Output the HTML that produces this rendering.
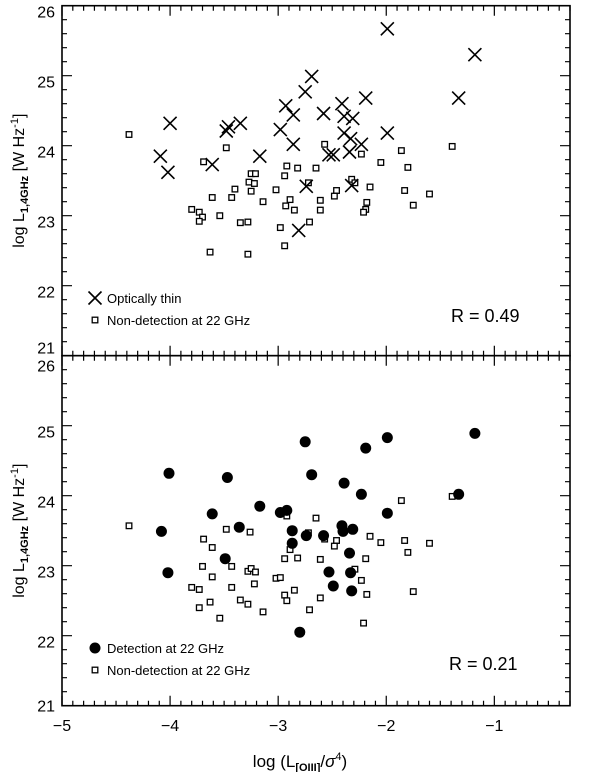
<!DOCTYPE html>
<html><head><meta charset="utf-8"><style>
html,body{margin:0;padding:0;background:#fff;}
svg text{font-family:"Liberation Sans","DejaVu Sans",sans-serif;fill:#000;}
</style></head><body>
<svg id="chart" width="600" height="772" viewBox="0 0 600 772" xmlns="http://www.w3.org/2000/svg">
<g id="axes"></g>
<g id="marks"></g>
</svg>
<script>
const xTicks=[-5,-4,-3,-2,-1];
const yTicks=[21,22,23,24,25,26];
const topThinX=[-1.99,-1.18,-2.69,-2.75,-2.93,-2.41,-2.19,-1.33,-4.0,-3.48,-3.46,-3.35,-2.86,-2.58,-2.39,-2.31,-2.98,-2.39,-1.99,-2.33,-2.86,-2.23,-2.34,-4.09,-3.17,-2.53,-2.49,-3.61,-4.02,-2.74,-2.32,-2.81];
const topThinY=[25.67,25.30,24.99,24.77,24.57,24.60,24.68,24.68,24.32,24.21,24.27,24.32,24.44,24.46,24.42,24.39,24.23,24.18,24.18,24.10,24.02,24.02,23.91,23.85,23.85,23.87,23.87,23.73,23.62,23.42,23.43,22.79];
const topNonX=[-4.38,-3.48,-3.69,-2.57,-1.86,-1.39,-2.23,-2.05,-1.80,-2.92,-2.82,-2.65,-2.94,-3.25,-3.21,-3.27,-3.22,-3.25,-3.02,-3.40,-3.43,-3.61,-3.14,-2.89,-2.93,-2.85,-2.72,-2.61,-2.61,-2.46,-2.48,-2.32,-2.29,-2.15,-2.18,-2.19,-2.21,-1.83,-1.75,-1.60,-3.80,-3.73,-3.70,-3.73,-3.54,-3.35,-3.28,-2.98,-2.71,-2.94,-3.63,-3.28];
const topNonY=[24.16,23.97,23.77,24.02,23.93,23.99,23.88,23.76,23.69,23.71,23.68,23.68,23.57,23.60,23.60,23.48,23.46,23.35,23.37,23.38,23.26,23.26,23.20,23.23,23.14,23.08,23.47,23.22,23.08,23.36,23.28,23.52,23.47,23.41,23.19,23.09,23.05,23.36,23.15,23.31,23.09,23.05,22.98,22.92,23.00,22.90,22.91,22.83,22.91,22.57,22.48,22.45];
const botDetX=[-1.18,-2.75,-1.99,-2.19,-4.01,-3.47,-2.69,-2.39,-2.23,-1.33,-3.17,-2.98,-2.92,-3.61,-1.99,-3.36,-4.08,-2.87,-2.41,-2.40,-2.31,-2.74,-2.58,-2.87,-2.34,-3.49,-4.02,-2.53,-2.33,-2.49,-2.32,-2.80];
const botDetY=[24.89,24.77,24.83,24.68,24.32,24.26,24.30,24.18,24.02,24.02,23.85,23.76,23.79,23.74,23.75,23.55,23.49,23.50,23.57,23.49,23.52,23.43,23.43,23.32,23.18,23.10,22.90,22.91,22.90,22.71,22.64,22.05];
const botNonX=[-4.38,-3.48,-3.26,-2.92,-2.65,-1.86,-1.39,-3.69,-3.61,-2.72,-2.57,-2.46,-2.48,-2.15,-2.05,-1.83,-1.80,-1.60,-2.89,-2.94,-2.82,-2.61,-2.19,-3.70,-3.43,-3.28,-3.25,-3.21,-2.29,-3.61,-3.02,-2.98,-3.22,-3.80,-3.73,-3.43,-2.23,-2.85,-2.94,-2.92,-2.61,-2.18,-1.75,-3.35,-3.28,-3.63,-3.73,-3.14,-2.71,-3.54,-2.21];
const botNonY=[23.57,23.52,23.48,23.71,23.68,23.93,23.99,23.38,23.26,23.47,23.38,23.36,23.28,23.42,23.33,23.36,23.19,23.32,23.23,23.10,23.11,23.09,23.10,22.99,22.99,22.92,22.96,22.91,22.95,22.84,22.82,22.83,22.74,22.69,22.66,22.69,22.79,22.65,22.58,22.50,22.54,22.59,22.63,22.51,22.45,22.48,22.40,22.34,22.37,22.25,22.18];

const NS='http://www.w3.org/2000/svg';
const L=62,R=570,XMIN=-5,XMAX=-0.3;
const panels=[{top:5.7,bot:355.7},{top:355.7,bot:705.7}];
function sx(v){return L+(v-XMIN)/(XMAX-XMIN)*(R-L);}
function syF(p){return v=>p.bot-(v-21)/(26-21)*(p.bot-p.top);}
function mk(tag,attrs,parent,text){const e=document.createElementNS(NS,tag);for(const k in attrs)e.setAttribute(k,attrs[k]);if(text!==undefined)e.textContent=text;parent.appendChild(e);return e;}
const axes=document.getElementById('axes'),marks=document.getElementById('marks');

panels.forEach((p,pi)=>{
  const sy=syF(p);
  const fr=mk('rect',{x:L,y:p.top,width:R-L,height:p.bot-p.top,fill:'none',stroke:'#000','stroke-width':1.6},axes);
  
  
  let d='';
  for(let v=-5;v<=-0.3+1e-6;v+=0.1){const x=sx(v);const maj=Math.abs(v-Math.round(v))<1e-6;const len=maj?10:5;d+=`M${x},${p.bot}v${-len}M${x},${p.top}v${len}`;}
  for(let v=21;v<=26+1e-6;v+=0.2){const y=sy(v);const maj=Math.abs(v-Math.round(v))<1e-6;const len=maj?10:5;d+=`M${L},${y}h${len}M${R},${y}h${-len}`;}
  const tk=mk('path',{d:d,stroke:'#000','stroke-width':1.2,fill:'none'},axes);
  
  
  yTicks.forEach(v=>{
    let yy=sy(v)+12;
    if(pi===0&&v===21)yy=sy(v)-2;
    if(pi===1&&v===26)yy=sy(v)+16;
    if(pi===1&&v===21)yy=sy(v)+6;
    const t=mk('text',{x:55,y:yy,'text-anchor':'end','font-size':16},axes,String(v));
    
    });
  const cy=(p.top+p.bot)/2;
  const yt=mk('text',{x:0,y:0,transform:`translate(24,${cy}) rotate(-90)`,'text-anchor':'middle','font-size':16},axes);
  
  
  yt.innerHTML='log L<tspan font-size="11" dy="4" font-weight="bold">1,4GHz</tspan><tspan dy="-4"> [W Hz</tspan><tspan font-size="11" dy="-6">-1</tspan><tspan dy="6">]</tspan>';
});
xTicks.forEach(v=>{const t=mk('text',{x:sx(v),y:731,'text-anchor':'middle','font-size':16},axes,(v<0?'\u2212':'')+Math.abs(v));
  
  });
const xt=mk('text',{x:300,y:767,'text-anchor':'middle','font-size':17},axes);


xt.innerHTML='log (L<tspan font-size="11" dy="4" font-weight="bold">[OIII]</tspan><tspan dy="-4">/</tspan><tspan font-style="italic">σ</tspan><tspan font-size="11" dy="-7">4</tspan><tspan dy="7">)</tspan>';

function cross(x,y,parent,name){const s=6.5;const e=mk('path',{d:`M${x-s},${y-s}L${x+s},${y+s}M${x-s},${y+s}L${x+s},${y-s}`,stroke:'#000','stroke-width':1.6,fill:'none'},parent);
  
  }
function square(x,y,parent,name){const e=mk('rect',{x:x-2.8,y:y-2.8,width:5.6,height:5.6,fill:'#fff',stroke:'#000','stroke-width':1.3},parent);
  
  }
function dot(x,y,parent,name){const e=mk('circle',{cx:x,cy:y,r:5.5,fill:'#000'},parent);
  
  }

const syT=syF(panels[0]),syB=syF(panels[1]);
topNonX.forEach((v,i)=>square(sx(v),syT(topNonY[i]),marks,'non-detection-point'));
topThinX.forEach((v,i)=>cross(sx(v),syT(topThinY[i]),marks,'optically-thin-point'));
botNonX.forEach((v,i)=>square(sx(v),syB(botNonY[i]),marks,'non-detection-point'));
botDetX.forEach((v,i)=>dot(sx(v),syB(botDetY[i]),marks,'detection-point'));

const lg1=mk('g',{},axes);


cross(95,298,lg1,'legend-marker-optically-thin');
mk('text',{x:107,y:303,'font-size':13},lg1,'Optically thin');
square(95,320,lg1,'legend-marker-non-detection');
mk('text',{x:107,y:325,'font-size':13},lg1,'Non-detection at 22 GHz');
const r1=mk('text',{x:451,y:322,'font-size':18},axes,'R = 0.49');


const lg2=mk('g',{},axes);


dot(95,648,lg2,'legend-marker-detection');
mk('text',{x:107,y:653,'font-size':13},lg2,'Detection at 22 GHz');
square(95,670,lg2,'legend-marker-non-detection');
mk('text',{x:107,y:675,'font-size':13},lg2,'Non-detection at 22 GHz');
const r2=mk('text',{x:449,y:670,'font-size':18},axes,'R = 0.21');


</script>
</body></html>
